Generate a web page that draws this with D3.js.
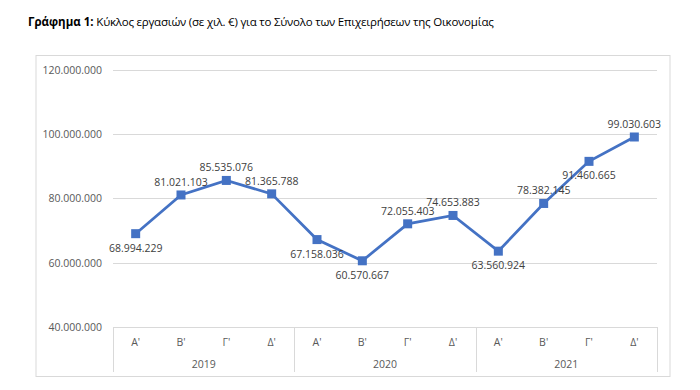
<!DOCTYPE html>
<html>
<head>
<meta charset="utf-8">
<script src="https://cdn.jsdelivr.net/npm/d3@7"></script>
<style>
body { margin: 0; background: #fff; }
text { font-family: "Open Sans", "Noto Sans", sans-serif; }
</style>
</head>
<body>
<svg id="chart" width="700" height="390"></svg>
<script>
// quarters and years on the category axis
var quarters = ["Α'", "Β'", "Γ'", "Δ'"];
var years = ["2019", "2020", "2021"];
// turnover in thousands of euro, one per quarter
var values = [68994229, 81021103, 85535076, 81365788,
              67158036, 60570667, 72055403, 74653883,
              63560924, 78382145, 91460665, 99030603];
var labelSide = ["below", "above", "above", "above",
                 "below", "below", "above", "above",
                 "below", "above", "below", "above"];
var yTicks = [40000000, 60000000, 80000000, 100000000, 120000000];

var svg = d3.select("#chart");
var plotLeft = 113, plotRight = 657, plotTop = 69.5, plotBottom = 327;

var fmt = function(v) { return d3.format(",")(v).replace(/,/g, "."); };

// title
var title = svg.append("text").attr("x", 28).attr("y", 26).style("font-size", "11.5px").attr("fill", "#000");
title.append("tspan").style("font-weight", "bold").text("Γράφημα 1:");
title.append("tspan").style("letter-spacing", "-0.22px")
     .text("  Κύκλος εργασιών (σε χιλ. €) για το Σύνολο των Επιχειρήσεων της Οικονομίας");

// outer frame
svg.append("rect").attr("x", 36).attr("y", 55.5).attr("width", 634).attr("height", 321)
   .attr("fill", "none").attr("stroke", "#d9d9d9");

var keys = d3.range(values.length);
var x = d3.scaleBand().domain(keys).range([plotLeft, plotRight]);
var y = d3.scaleLinear().domain([40000000, 120000000]).range([plotBottom, plotTop]);

// grid
svg.append("g").selectAll("line").data(yTicks.slice(1)).enter().append("line")
   .attr("x1", plotLeft).attr("x2", plotRight)
   .attr("y1", function(d) { return Math.round(y(d)) + 0.5; })
   .attr("y2", function(d) { return Math.round(y(d)) + 0.5; })
   .attr("stroke", "#d9d9d9");

svg.append("g").selectAll("text").data(yTicks).enter().append("text")
   .attr("x", 102).attr("y", function(d) { return y(d) + 4; })
   .attr("text-anchor", "end").style("font-size", "10.5px").attr("fill", "#595959")
   .text(fmt);

// category axis
var axisG = svg.append("g").attr("stroke", "#d9d9d9");
axisG.append("line").attr("x1", plotLeft).attr("x2", plotRight)
   .attr("y1", plotBottom + 0.5).attr("y2", plotBottom + 0.5);
var yearX = d3.scaleBand().domain(years).range([plotLeft, plotRight]);
axisG.selectAll(".sep").data([plotLeft].concat(years.map(function(d) { return yearX(d) + yearX.bandwidth(); })))
   .enter().append("line")
   .attr("x1", function(d) { return Math.round(d) + 0.5; }).attr("x2", function(d) { return Math.round(d) + 0.5; })
   .attr("y1", plotBottom).attr("y2", 372);

svg.append("g").selectAll("text").data(keys).enter().append("text")
   .attr("x", function(d) { return x(d) + x.bandwidth() / 2; }).attr("y", 346)
   .attr("text-anchor", "middle").style("font-size", "10.5px").attr("fill", "#595959")
   .text(function(d) { return quarters[d % 4]; });

svg.append("g").selectAll("text").data(years).enter().append("text")
   .attr("x", function(d) { return yearX(d) + yearX.bandwidth() / 2; }).attr("y", 368)
   .attr("text-anchor", "middle").style("font-size", "10.5px").attr("fill", "#595959")
   .text(function(d) { return d; });

// line and markers
var cx = function(i) { return x(i) + x.bandwidth() / 2; };
var line = d3.line().x(function(d, i) { return cx(i); }).y(function(d) { return y(d); });
svg.append("path").datum(values).attr("d", line)
   .attr("fill", "none").attr("stroke", "#4472c4").attr("stroke-width", 2.75);

svg.append("g").selectAll("rect").data(values).enter().append("rect")
   .attr("x", function(d, i) { return cx(i) - 4.5; }).attr("y", function(d) { return y(d) - 4.5; })
   .attr("width", 9).attr("height", 9).attr("fill", "#4472c4");

svg.append("g").selectAll("text").data(values).enter().append("text")
   .attr("x", function(d, i) { return cx(i); })
   .attr("y", function(d, i) { return labelSide[i] === "above" ? y(d) - 9 : y(d) + 18; })
   .attr("text-anchor", "middle").style("font-size", "10.5px").attr("fill", "#404040")
   .text(fmt);
</script>
</body>
</html>
